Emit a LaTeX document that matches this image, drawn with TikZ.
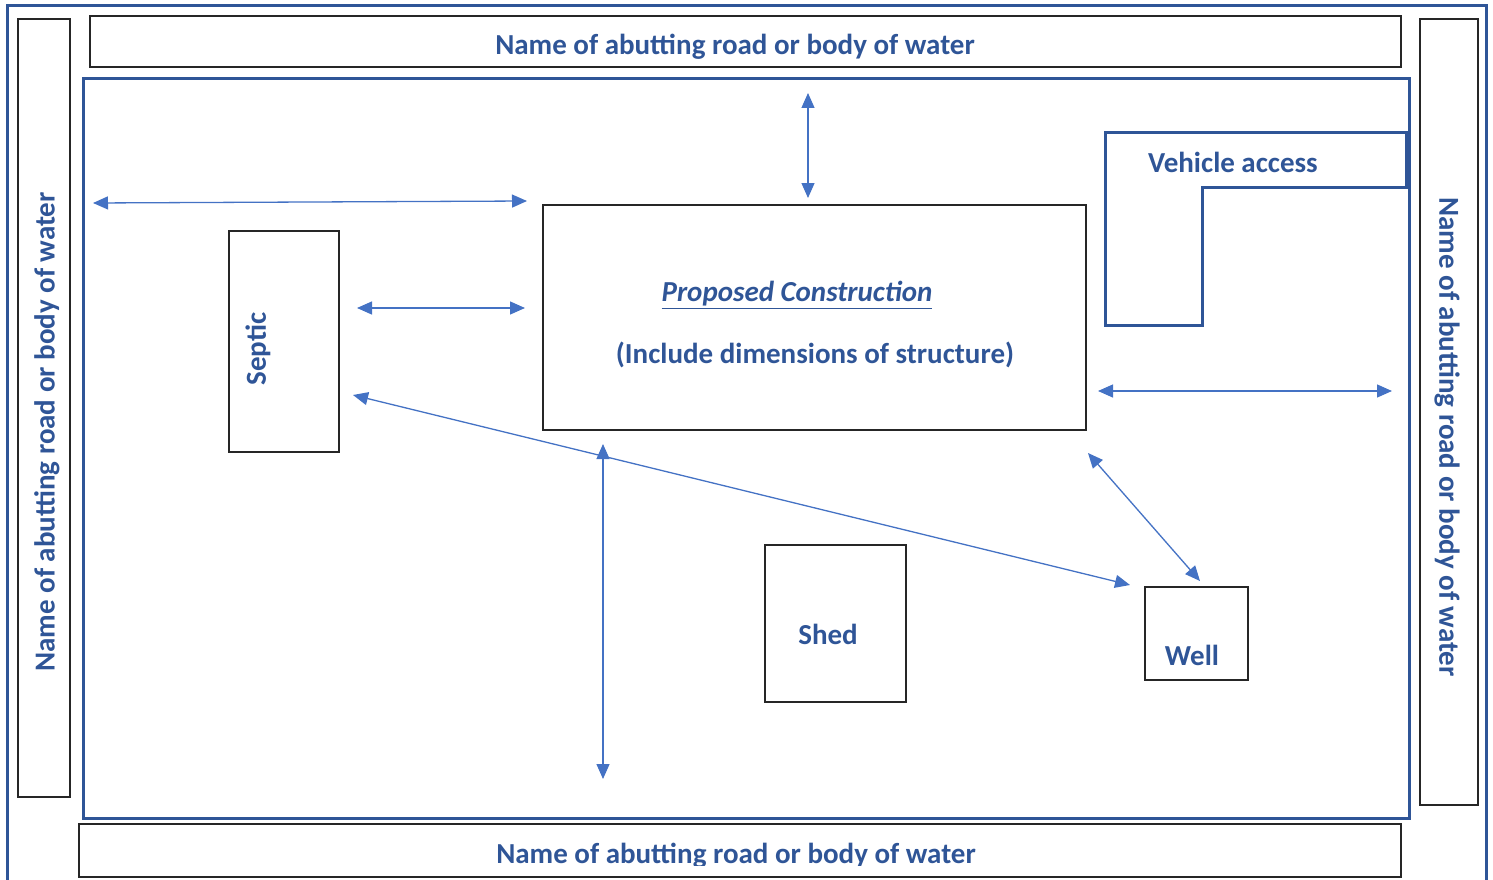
\documentclass[tikz,border=0pt]{standalone}
\usepackage{fontspec}
\setmainfont{Carlito}
\usetikzlibrary{arrows.meta}
\definecolor{frameblue}{HTML}{2F5597}
\definecolor{arrowblue}{HTML}{4472C4}
\begin{document}
\begin{tikzpicture}[x=1pt,y=-1pt,
    box/.style={draw=black!85,line width=1.5pt,inner sep=0pt},
    lbl/.style={text=frameblue,font=\fontsize{29}{34}\selectfont\bfseries,inner sep=0pt},
    dist/.style={{Triangle[length=15pt,width=13pt]}-{Triangle[length=15pt,width=13pt]},draw=arrowblue,line width=1.3pt}]
        \useasboundingbox (0,0) rectangle (1493,880);
        \begin{scope} \clip (0,0) rectangle (1493,880);
        \draw[frameblue,line width=3pt] (7,6) rectangle (1486,900); \end{scope}
        \draw[frameblue,line width=3pt] (83,79) rectangle (1409,818);
        % roads and water around the lot
        \draw[box] (18,19) rectangle (70,797); \draw[box] (90,16) rectangle (1401,67);
        \draw[box] (1420,19) rectangle (1478,805); \draw[box] (79,824) rectangle (1401,877);
        \node[lbl] (roadN) at (735,47) {Name of abutting road or body of water};
        \node[lbl,rotate=90] (roadW) at (47,432) {Name of abutting road or body of water};
        \node[lbl,rotate=-90] (roadE) at (1447,437) {Name of abutting road or body of water};
        \begin{scope} \clip (79,824) rectangle (1401,865);
        \node[lbl] (roadS) at (736,856) {Name of abutting road or body of water}; \end{scope}
        % buildings
        \node[box,minimum width=543,minimum height=225] (house) at (814.5,317.5) {};
        \node[lbl] at (797,295) {\underline{\itshape Proposed Construction}};
        \node[lbl] at (815,355) {(Include dimensions of structure)};
        \node[box,minimum width=110,minimum height=221] (septic) at (284,341.5) {};
        \node[lbl,rotate=90] at (258,349) {Septic};
        \node[box,minimum width=141,minimum height=157] (shed) at (835.5,623.5) {};
        \node[lbl] at (828,634) {Shed};
        \node[box,minimum width=103,minimum height=93] (well) at (1196.5,633.5) {};
        \node[lbl] at (1192,655) {Well};
        \draw[frameblue,line width=3pt] (1105,133) -- (1406,133) -- (1406,187) -- (1202,187) -- (1202,325) -- (1105,325) -- cycle;
        \node[lbl] (access) at (1233,162) {Vehicle access};
        % setbacks
        \coordinate (a1) at (93,203); \coordinate (a2) at (527,201);
        \coordinate (b1) at (357,308); \coordinate (b2) at (525,308);
        \coordinate (c1) at (808,93); \coordinate (c2) at (808,198);
        \coordinate (d1) at (1098,391); \coordinate (d2) at (1392,391);
        \coordinate (e1) at (353,395); \coordinate (e2) at (1130,585);
        \coordinate (f1) at (603,444); \coordinate (f2) at (603,779);
        \coordinate (g1) at (1088,453); \coordinate (g2) at (1200,581);
        \foreach \p in {a,b,c,d,e,f,g} \draw[dist] (\p1) -- (\p2);
\end{tikzpicture}
\end{document}
